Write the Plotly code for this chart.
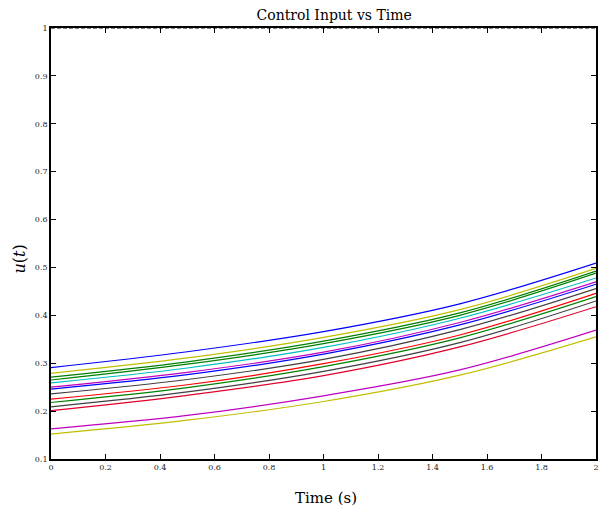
import plotly.graph_objects as go

# Time samples (s)
time_s = [0.0, 0.5, 1.0, 1.5, 2.0]

# Control input trajectories u(t) (top to bottom)
u_blue_1    = [0.291, 0.324, 0.366, 0.424, 0.509]
u_yellow_1  = [0.279, 0.311, 0.354, 0.412, 0.498]
u_green_1   = [0.271, 0.303, 0.346, 0.405, 0.4925]
u_green_2   = [0.265, 0.298, 0.341, 0.400, 0.488]
u_cyan_1    = [0.259, 0.290, 0.333, 0.394, 0.478]
u_magenta_1 = [0.250, 0.281, 0.323, 0.385, 0.470]
u_blue_2    = [0.246, 0.276, 0.319, 0.380, 0.465]
u_gray_1    = [0.236, 0.266, 0.308, 0.370, 0.456]
u_red_1     = [0.225, 0.255, 0.299, 0.359, 0.446]
u_green_3   = [0.218, 0.249, 0.293, 0.353, 0.439]
u_gray_2    = [0.209, 0.240, 0.283, 0.343, 0.430]
u_red_2     = [0.201, 0.233, 0.274, 0.334, 0.418]
u_magenta_2 = [0.163, 0.191, 0.232, 0.286, 0.369]
u_yellow_2  = [0.152, 0.181, 0.220, 0.275, 0.355]

series = [
    (u_blue_1, "#0000FF"),
    (u_yellow_1, "#BFBF00"),
    (u_green_1, "#008000"),
    (u_green_2, "#008000"),
    (u_cyan_1, "#00BFBF"),
    (u_magenta_1, "#BF00BF"),
    (u_blue_2, "#0000FF"),
    (u_gray_1, "#404040"),
    (u_red_1, "#FF0000"),
    (u_green_3, "#008000"),
    (u_gray_2, "#404040"),
    (u_red_2, "#E0002A"),
    (u_magenta_2, "#BF00BF"),
    (u_yellow_2, "#BFBF00"),
]

# Upper limit reference line
limit_t = [0.0, 2.0]
limit_u = [1.0, 1.0]

x_ticks = [0, 0.2, 0.4, 0.6, 0.8, 1, 1.2, 1.4, 1.6, 1.8, 2]
x_tick_text = ["0", "0.2", "0.4", "0.6", "0.8", "1", "1.2", "1.4", "1.6", "1.8", "2"]
y_ticks = [0.1, 0.2, 0.3, 0.4, 0.5, 0.6, 0.7, 0.8, 0.9, 1]
y_tick_text = ["0.1", "0.2", "0.3", "0.4", "0.5", "0.6", "0.7", "0.8", "0.9", "1"]

serif = "DejaVu Serif, Liberation Serif, serif"

fig = go.Figure()
for vals, col in series:
    fig.add_trace(go.Scatter(
        x=time_s, y=vals, mode="lines",
        line=dict(color=col, width=1.2, shape="spline", smoothing=1.0),
        showlegend=False, hoverinfo="skip",
    ))

fig.add_trace(go.Scatter(
    x=limit_t, y=limit_u, mode="lines",
    line=dict(color="black", width=1.2, dash="4px,2px"),
    showlegend=False, hoverinfo="skip", cliponaxis=False,
))

axis_common = dict(
    showgrid=False, zeroline=False,
    showline=True, linecolor="black", linewidth=1.6, mirror="ticks",
    ticks="inside", ticklen=5, tickwidth=1, tickcolor="black",
    tickfont=dict(family=serif, size=8, color="#222"),
)

fig.update_layout(
    width=600, height=509,
    margin=dict(l=51, r=2, t=28, b=50),
    paper_bgcolor="white", plot_bgcolor="white",
    title=dict(text="Control Input vs Time", x=0.557, xanchor="center",
               y=1 - 15 / 509, yanchor="middle",
               font=dict(family=serif, size=14, color="black")),
    xaxis=dict(range=[0, 2], tickvals=x_ticks, ticktext=x_tick_text, **axis_common),
    yaxis=dict(range=[0.1, 1], tickvals=y_ticks, ticktext=y_tick_text, **axis_common),
    annotations=[
        dict(text="Time (s)", xref="paper", yref="paper", x=0.505, y=-0.09,
             xanchor="center", yanchor="middle", showarrow=False,
             font=dict(family=serif, size=15, color="black")),
        dict(text="<i>u</i>(<i>t</i>)", xref="paper", yref="paper", x=-0.057, y=0.465,
             xanchor="center", yanchor="middle", showarrow=False, textangle=-90,
             font=dict(family=serif, size=16, color="black")),
    ],
)

fig.write_html("out.html",
               config={"displayModeBar": False},
               post_script="document.body.style.margin='0';document.body.style.overflow='hidden';")
